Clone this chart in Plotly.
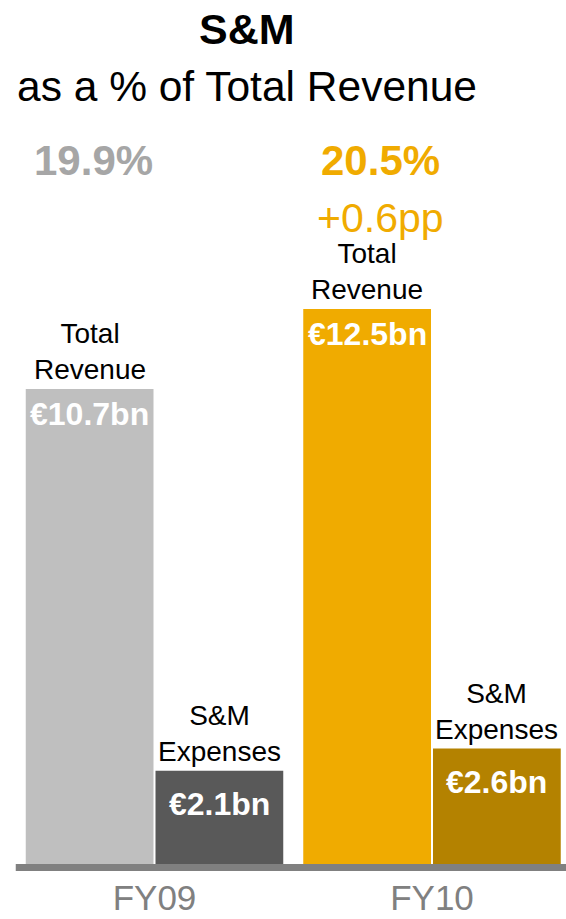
import plotly.graph_objects as go

# ---- data ----
years = ["FY09", "FY10"]
total_revenue = [10.7, 12.5]          # € bn
sm_expenses = [2.1, 2.6]              # € bn
sm_pct = ["19.9%", "20.5%"]
pct_change = "+0.6pp"
total_labels = ["€10.7bn", "€12.5bn"]
sm_labels = ["€2.1bn", "€2.6bn"]
series_names = ["Total<br>Revenue", "S&M<br>Expenses"]

total_colors = ["#BFBFBF", "#F0AB00"]
sm_colors = ["#595959", "#B48200"]

W, H = 566, 919
BASE_PX = 864               # pixel row of the bars' bottom
LINE_PX = 7                 # thickness of the base line
B = H - BASE_PX - LINE_PX   # bottom margin
PLOT_H = H - B
PX_PER_UNIT = 44.4
CAT_W = 277.5
CENTER0 = 154.5
FONT = "Liberation Sans, Arial, sans-serif"

fig = go.Figure()
fig.add_trace(go.Bar(x=years, y=total_revenue, marker=dict(color=total_colors, line=dict(width=0)),
                     name="Total Revenue", hoverinfo="skip"))
fig.add_trace(go.Bar(x=years, y=sm_expenses, marker=dict(color=sm_colors, line=dict(width=0)),
                     name="S&M Expenses", hoverinfo="skip"))

def py(px):
    return 1 - px / PLOT_H

ann = []
ann.append(dict(text="<b>S&M</b>", x=247 / W, y=py(29), font=dict(size=43, color="#000000")))
ann.append(dict(text="as a % of Total Revenue", x=247 / W, y=py(87), font=dict(size=42.5, color="#000000")))
ann.append(dict(text="<b>%s</b>" % sm_pct[0], x=93 / W, y=py(161), font=dict(size=42, color="#A6A6A6")))
ann.append(dict(text="<b>%s</b>" % sm_pct[1], x=380 / W, y=py(161), font=dict(size=42, color="#F0AB00")))
ann.append(dict(text=pct_change, x=380 / W, y=py(218), font=dict(size=41, color="#F0AB00")))
for a in ann:
    a.update(xref="paper", yref="paper", xanchor="center", yanchor="middle", showarrow=False)

offset = CAT_W * (1 - 0.0649) / 4
for i, yr in enumerate(years):
    for vals, labs, name, sh, vshift in [(total_revenue, total_labels, series_names[0], -offset, -25),
                                         (sm_expenses, sm_labels, series_names[1], offset, -33)]:
        ann.append(dict(text=name, x=yr, y=vals[i], xref="x", yref="y", xshift=sh, yshift=2,
                        xanchor="center", yanchor="bottom", showarrow=False,
                        font=dict(size=28, color="#000000")))
        ann.append(dict(text="<b>%s</b>" % labs[i], x=yr, y=vals[i], xref="x", yref="y", xshift=sh,
                        yshift=vshift, xanchor="center", yanchor="middle", showarrow=False,
                        font=dict(size=32, color="#FFFFFF")))

fig.update_layout(
    width=W, height=H,
    margin=dict(l=0, r=0, t=0, b=B, pad=0),
    paper_bgcolor="white", plot_bgcolor="white",
    barmode="group", bargap=0.0649, bargroupgap=0.0154,
    showlegend=False,
    font=dict(family=FONT),
    annotations=ann,
    xaxis=dict(type="category", range=[-CENTER0 / CAT_W, (W - CENTER0) / CAT_W],
               showgrid=False, zeroline=False, showline=False, ticks="",
               tickfont=dict(size=35, color="#808080", family=FONT), ticklabelstandoff=3),
    yaxis=dict(range=[-LINE_PX / PX_PER_UNIT, BASE_PX / PX_PER_UNIT], visible=False,
               showgrid=False, zeroline=False),
    shapes=[dict(type="rect", xref="x", yref="y", x0=-0.5, x1=1.5, ysizemode="pixel", yanchor=0,
                 y0=-LINE_PX, y1=0, fillcolor="#808080", line=dict(width=0), layer="above")],
)

fig.write_html("out.html", config={"displayModeBar": False},
               post_script="document.body.style.margin='0';")
